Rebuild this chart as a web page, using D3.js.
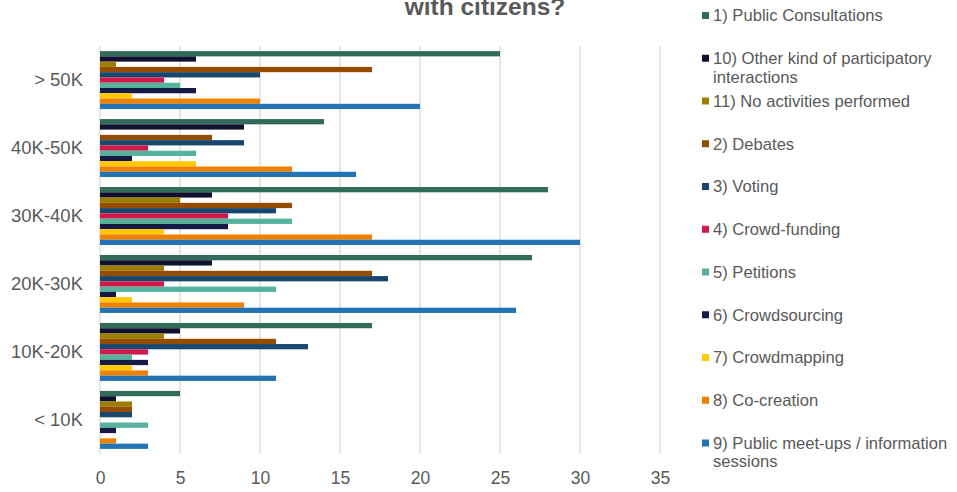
<!DOCTYPE html>
<html>
<head>
<meta charset="utf-8">
<script src="https://cdn.jsdelivr.net/npm/d3@7"></script>
<style>
  html, body { margin: 0; padding: 0; background: #fff; }
  svg { display: block; font-family: "Liberation Sans", Arial, sans-serif; }
</style>
</head>
<body>
<svg id="chart" width="957" height="492"></svg>
<script>
const categories = ["> 50K", "40K-50K", "30K-40K", "20K-30K", "10K-20K", "< 10K"];
const seriesNames = [
  "1) Public Consultations",
  "10) Other kind of participatory interactions",
  "11) No activities performed",
  "2) Debates",
  "3) Voting",
  "4) Crowd-funding",
  "5) Petitions",
  "6) Crowdsourcing",
  "7) Crowdmapping",
  "8) Co-creation",
  "9) Public meet-ups / information sessions"
];
const seriesColors = ["#336b5b", "#10112e", "#9b7d00", "#934c00", "#17476c", "#d0184a", "#57b29b", "#151a45", "#ffc800", "#ee8100", "#2473b4"];
// values per series, in category order (> 50K ... < 10K)
const publicConsultations = [25, 14, 28, 27, 17, 5];
const otherInteractions   = [6, 9, 7, 7, 5, 1];
const noActivities        = [1, 0, 5, 4, 4, 2];
const debates             = [17, 7, 12, 17, 11, 2];
const voting              = [10, 9, 11, 18, 13, 2];
const crowdFunding        = [4, 3, 8, 4, 3, 0];
const petitions           = [5, 6, 12, 11, 2, 3];
const crowdsourcing       = [6, 2, 8, 1, 3, 1];
const crowdmapping        = [2, 6, 4, 2, 2, 0];
const coCreation          = [10, 12, 17, 9, 3, 1];
const meetUps             = [20, 16, 30, 26, 11, 3];
const xTicks = [0, 5, 10, 15, 20, 25, 30, 35];
const titleLine = "with citizens?";

const seriesValues = [publicConsultations, otherInteractions, noActivities, debates, voting,
  crowdFunding, petitions, crowdsourcing, crowdmapping, coCreation, meetUps];

const svg = d3.select("#chart");
const plotLeft = 100, plotRight = 660, plotTop = 46, plotBottom = 454;
const textColor = "#595959";

const x = d3.scaleLinear().domain([0, 35]).range([plotLeft, plotRight]);
const y0 = d3.scaleBand().domain(categories).range([plotTop, plotBottom]).paddingInner(0.147).paddingOuter(0.075);
const y1 = d3.scaleBand().domain(d3.range(seriesNames.length)).range([0, y0.bandwidth()]);

// gridlines
svg.append("g").selectAll("line").data(xTicks).join("line")
  .attr("x1", d => x(d)).attr("x2", d => x(d))
  .attr("y1", plotTop).attr("y2", plotBottom)
  .attr("stroke", "#d9d9d9").attr("stroke-width", 1.3);

// bars
const groups = svg.append("g").selectAll("g").data(categories).join("g")
  .attr("transform", d => `translate(0,${y0(d)})`);
groups.selectAll("rect")
  .data((c, ci) => seriesValues.map((vals, si) => ({ si, v: vals[ci] })))
  .join("rect")
  .attr("x", x(0))
  .attr("y", d => y1(d.si))
  .attr("width", d => x(d.v) - x(0))
  .attr("height", y1.bandwidth())
  .attr("fill", d => seriesColors[d.si]);

// x axis
const xAxis = d3.axisBottom(x).tickValues(xTicks).tickSize(0).tickPadding(0);
const gx = svg.append("g").attr("transform", `translate(0,${plotBottom})`).call(xAxis);
gx.select(".domain").remove();
gx.selectAll("text").attr("font-size", 17.5).attr("fill", textColor)
  .attr("font-family", "Liberation Sans, Arial, sans-serif")
  .attr("dy", null).attr("y", 29.5);

// y axis
const yAxis = d3.axisLeft(y0).tickSize(0).tickPadding(17);
const gy = svg.append("g").attr("transform", `translate(${plotLeft},0)`).call(yAxis);
gy.select(".domain").remove();
gy.selectAll("text").attr("font-size", 18.5).attr("fill", textColor)
  .attr("font-family", "Liberation Sans, Arial, sans-serif");

// title
svg.append("text").attr("x", 485).attr("y", 15).attr("text-anchor", "middle")
  .attr("font-size", 24.5).attr("font-weight", "bold").attr("fill", textColor)
  .text(titleLine);

// legend
const legendLines = [
  ["1) Public Consultations"],
  ["10) Other kind of participatory", "interactions"],
  ["11) No activities performed"],
  ["2) Debates"],
  ["3) Voting"],
  ["4) Crowd-funding"],
  ["5) Petitions"],
  ["6) Crowdsourcing"],
  ["7) Crowdmapping"],
  ["8) Co-creation"],
  ["9) Public meet-ups / information", "sessions"]
];
const legY = d3.scaleLinear().domain([0, 10]).range([15.5, 443]);
const leg = svg.append("g").selectAll("g").data(seriesNames).join("g")
  .attr("transform", (d, i) => `translate(0,${legY(i)})`);
leg.append("rect").attr("x", 702).attr("y", -3.5).attr("width", 7).attr("height", 7)
  .attr("fill", (d, i) => seriesColors[i]);
leg.append("text").attr("x", 713).attr("y", 0).attr("font-size", 16.6).attr("fill", textColor)
  .selectAll("tspan").data((d, i) => legendLines[i]).join("tspan")
  .attr("x", 713).attr("dy", (d, j) => j === 0 ? "0.35em" : "18.5")
  .text(d => d);
</script>
</body>
</html>
